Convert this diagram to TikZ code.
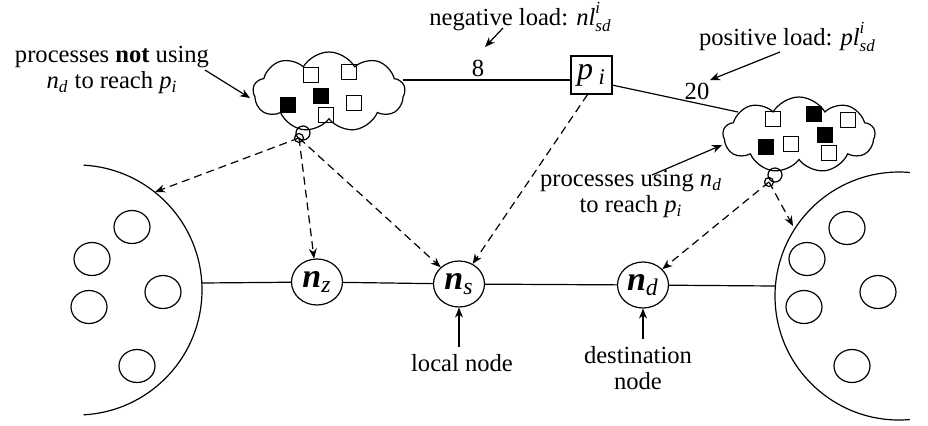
\documentclass[tikz,border=0pt]{standalone}
\usepackage{fontspec}
\usepackage{amsmath}
\setmainfont{Liberation Serif}
\usetikzlibrary{shapes.geometric,shapes.symbols,arrows.meta}
\newcommand{\supsubIS}{\rlap{\raisebox{1.05ex}{\fontsize{8.5}{9}\selectfont\textit{i}}}\raisebox{-0.55ex}{\fontsize{8.5}{9}\selectfont\textit{sd}}}
\begin{document}
\begin{tikzpicture}[x=0.5pt,y=-0.5pt, line width=0.6pt,
  font=\fontsize{12.3}{13}\selectfont,
  nnode/.style={draw, ellipse, minimum width=25.5pt, minimum height=23pt, inner sep=0pt, font=\fontsize{17}{17}\selectfont},
  smallc/.style={draw, ellipse, minimum width=18pt, minimum height=16.5pt, inner sep=0pt},
  sq/.style={draw, minimum size=7.5pt, inner sep=0pt},
  fsq/.style={sq, fill=black},
  cloudy/.style={draw, cloud, cloud puffs=9, cloud puff arc=120, cloud ignores aspect, inner sep=0pt},
  dasharrow/.style={dash pattern=on 4pt off 2.5pt, -{Stealth[length=5pt,width=4pt]}},
  solarrow/.style={-{Stealth[length=5pt,width=4pt]}},
  bub/.style={draw, circle, inner sep=0pt}
]
\useasboundingbox (0,0) rectangle (928,425);

% big arcs
\draw (77,290) ++(-87:125) arc[start angle=-87, end angle=87, radius=125];
\draw (899,296) ++(85:124) arc[start angle=85, end angle=275, radius=124];
\coordinate (lae) at (201.5,283);
\coordinate (rae) at (775,286);
\coordinate (la) at (155,192);
\coordinate (ra) at (793,226);

% small circles in groups
\node[smallc] (l1) at (132,227) {};
\node[smallc] (l2) at (92,259) {};
\node[smallc] (l3) at (89,307) {};
\node[smallc] (l4) at (163,292) {};
\node[smallc] (l5) at (137,366) {};
\node[smallc] (r1) at (847,228) {};
\node[smallc] (r2) at (807,259) {};
\node[smallc] (r3) at (804,307) {};
\node[smallc] (r4) at (878,292) {};
\node[smallc] (r5) at (852,366) {};

% main nodes
\node[nnode] (nz) at (317,282) {\textbf{\textit{n}}\textsubscript{\textit{z}}};
\node[nnode] (ns) at (459,284) {\textbf{\textit{n}}\textsubscript{\textit{s}}};
\node[nnode] (nd) at (643,285) {\textbf{\textit{n}}\textsubscript{\textit{d}}};
\draw (lae) -- (nz);
\draw (nz) -- (ns);
\draw (ns) -- (nd);
\draw (nd) -- (rae);

% p_i box
\node[draw, minimum width=20.5pt, minimum height=19pt, inner sep=0pt, font=\fontsize{16}{16}\selectfont] (pi) at (591.5,75) {\textit{p}\,\textsubscript{\textit{i}}};

% clouds
\node[cloudy, minimum width=76pt, minimum height=40pt] (lc) at (329,92) {};
\node[sq] (lq1) at (311,75) {};
\node[sq] (lq2) at (349,72) {};
\node[fsq] (lq3) at (288,105) {};
\node[fsq] (lq4) at (321,96) {};
\node[sq] (lq5) at (354,103) {};
\node[sq] (lq6) at (326,115) {};
\node[bub, minimum size=7pt] (lb1) at (303,133) {};
\node[bub, minimum size=4.5pt] (lb2) at (299,138) {};

\node[cloudy, minimum width=76pt, minimum height=38pt] (rc) at (799,135) {};
\node[sq] (rq1) at (773,119) {};
\node[fsq] (rq2) at (814,114) {};
\node[sq] (rq3) at (848,120) {};
\node[fsq] (rq4) at (825,135) {};
\node[fsq] (rq5) at (766,147) {};
\node[sq] (rq6) at (791,144) {};
\node[sq] (rq7) at (829,153) {};
\node[bub, minimum size=7pt] (rb1) at (775,175) {};
\node[bub, minimum size=4.5pt] (rb2) at (769,182) {};

% links from clouds to p_i
\coordinate (lcr) at (403,80);
\coordinate (pie) at (612,85);
\coordinate (rcw) at (738,112);
\draw (lcr) -- (pi.west |- lcr);
\draw (pie) -- (rcw);
\node at (478,68) {8};
\node at (697,91) {20};

% dashed arrows
\draw[dasharrow] (lb2.center) -- (la);
\draw[dasharrow] (lb2.center) -- (nz);
\draw[dasharrow] (lb2.center) -- (ns);
\draw[dasharrow] ([xshift=-2]pi.south) -- (ns);
\draw[dasharrow] (rb2.center) -- (nd);
\draw[dasharrow] (rb2.center) -- (ra);

% labels
\node[align=center] (tnot) at (112,70) {processes \textbf{not} using\\\textit{n}\textsubscript{\textit{d}} to reach \textit{p}\textsubscript{\textit{i}}};
\coordinate (a1s) at (205,70);
\coordinate (a1e) at (250,98);
\draw[solarrow] (a1s) -- (a1e);

\node (tneg) at (520,17) {negative load: \textit{nl}\supsubIS};
\coordinate (a2s) at (503,28);
\coordinate (a2e) at (485,47);
\draw[solarrow] (a2s) -- (a2e);

\node (tpos) at (787,37) {positive load: \textit{pl}\supsubIS};
\coordinate (a3s) at (780,52);
\coordinate (a3e) at (710,80);
\draw[solarrow] (a3s) -- (a3e);

\node[align=center] (tuse) at (631,194) {processes using \textit{n}\textsubscript{\textit{d}}\\to reach \textit{p}\textsubscript{\textit{i}}};
\coordinate (a4s) at (652,175);
\coordinate (a4e) at (722,145);
\draw[solarrow] (a4s) -- (a4e);

\node (tloc) at (462,363) {local node};
\draw[solarrow] (tloc.north -| ns) -- (ns);

\node[align=center] (tdst) at (638,368) {destination\\node};
\draw[solarrow] (tdst.north -| nd) -- (nd);
\end{tikzpicture}
\end{document}
